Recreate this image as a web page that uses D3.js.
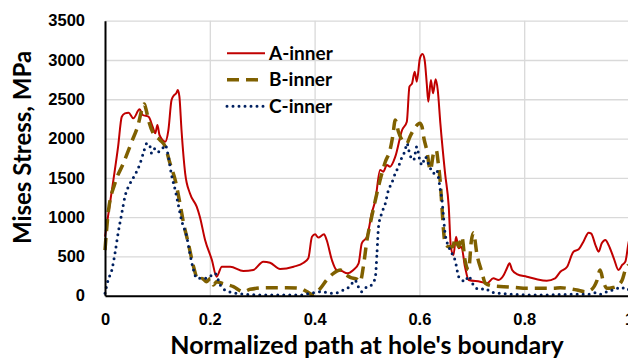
<!DOCTYPE html>
<html>
<head>
<meta charset="utf-8">
<script src="https://cdn.jsdelivr.net/npm/d3@7"></script>
<style>
  html, body { margin: 0; padding: 0; background: #fff; }
  svg { display: block; font-family: Lato, "Open Sans", sans-serif; font-weight: 700; }
</style>
</head>
<body>
<svg id="chart" width="628" height="358"></svg>
<script>
/* ── DATA ── */
const seriesNames = ['A-inner', 'B-inner', 'C-inner'];
const xTicks = [0, 0.2, 0.4, 0.6, 0.8, 1];
const yTicks = [0, 500, 1000, 1500, 2000, 2500, 3000, 3500];
const xTitle = "Normalized path at hole's boundary";
const yTitle = 'Mises Stress, MPa';

// [normalized path, stress MPa]
const aInner = [
  [0, 750], [0.016, 1470], [0.025, 1896], [0.032, 2278], [0.038, 2321], [0.045, 2330],
  [0.054, 2258], [0.066, 2372], [0.072, 2300], [0.083, 2278], [0.091, 2150], [0.096, 2067],
  [0.100, 2172], [0.104, 2045], [0.115, 1960], [0.121, 2109], [0.127, 2490], [0.132, 2554],
  [0.136, 2576], [0.139, 2618], [0.142, 2533], [0.146, 2109], [0.153, 1558], [0.162, 1303],
  [0.175, 1133], [0.181, 1005], [0.191, 709], [0.204, 454], [0.213, 242], [0.223, 369],
  [0.239, 369], [0.264, 314], [0.283, 327], [0.302, 433], [0.315, 420], [0.334, 340],
  [0.360, 369], [0.379, 420], [0.388, 476], [0.395, 751], [0.401, 781], [0.407, 740],
  [0.418, 781], [0.423, 709], [0.433, 454], [0.442, 327], [0.452, 314], [0.462, 285],
  [0.474, 327], [0.484, 412], [0.490, 667], [0.500, 751], [0.509, 1049], [0.516, 1218],
  [0.525, 1600], [0.531, 1578], [0.538, 1663], [0.544, 1642], [0.554, 1769], [0.567, 2109],
  [0.576, 2215], [0.581, 2660], [0.586, 2703], [0.591, 2851], [0.595, 2724], [0.601, 3021],
  [0.606, 3076], [0.610, 3000], [0.614, 2703], [0.617, 2469], [0.622, 2745], [0.626, 2576],
  [0.631, 2754], [0.635, 2618], [0.640, 2194], [0.649, 1558], [0.656, 1133], [0.660, 624],
  [0.665, 518], [0.670, 751], [0.675, 603], [0.680, 624], [0.687, 369], [0.694, 200],
  [0.716, 178], [0.729, 158], [0.741, 221], [0.751, 200], [0.761, 263], [0.767, 349],
  [0.772, 412], [0.777, 327], [0.786, 276], [0.805, 242], [0.824, 209], [0.843, 191],
  [0.859, 221], [0.869, 305], [0.882, 369], [0.894, 560], [0.904, 590], [0.913, 687],
  [0.923, 802], [0.928, 790], [0.936, 645], [0.942, 560], [0.948, 667], [0.955, 709],
  [0.961, 645], [0.971, 476], [0.980, 327], [0.987, 391], [0.993, 433], [0.999, 667], [1, 700]
];

const bInner = [
  [0, 581], [0.006, 1049], [0.019, 1430], [0.035, 1685], [0.051, 1960], [0.064, 2194],
  [0.070, 2363], [0.075, 2440], [0.078, 2380], [0.083, 2236], [0.092, 2067], [0.105, 1981],
  [0.115, 1896], [0.124, 1685], [0.134, 1472], [0.143, 1176], [0.150, 921], [0.159, 667],
  [0.169, 369], [0.178, 200], [0.185, 220], [0.194, 178], [0.201, 221], [0.207, 136],
  [0.213, 178], [0.223, 158], [0.245, 115], [0.264, 51], [0.277, 81], [0.309, 102],
  [0.347, 102], [0.372, 94], [0.385, 51], [0.398, 9], [0.411, 94], [0.423, 200],
  [0.436, 285], [0.449, 327], [0.458, 276], [0.468, 234], [0.481, 209], [0.487, 178],
  [0.493, 369], [0.500, 709], [0.509, 1005], [0.516, 1218], [0.525, 1472], [0.535, 1705],
  [0.544, 1854], [0.549, 2024], [0.554, 2236], [0.560, 2087], [0.567, 1981], [0.576, 1939],
  [0.582, 2024], [0.592, 2143], [0.601, 2194], [0.605, 2150], [0.608, 2024], [0.614, 1854],
  [0.621, 1600], [0.627, 1812], [0.632, 1854], [0.636, 1685], [0.640, 1430], [0.643, 1133],
  [0.646, 836], [0.649, 667], [0.656, 624], [0.664, 624], [0.668, 730], [0.675, 624],
  [0.681, 751], [0.687, 454], [0.694, 330], [0.699, 690], [0.703, 800], [0.710, 520],
  [0.719, 305], [0.726, 158], [0.741, 123], [0.761, 115], [0.780, 106], [0.805, 94],
  [0.831, 94], [0.856, 94], [0.869, 102], [0.882, 94], [0.901, 72], [0.917, 51],
  [0.929, 81], [0.938, 178], [0.945, 327], [0.951, 178], [0.958, 94], [0.968, 102],
  [0.977, 123], [0.987, 200], [0.993, 327], [0.999, 391]
];

const cInner = [
  [0, 30], [0.006, 200], [0.013, 327], [0.019, 539], [0.025, 794], [0.032, 1049],
  [0.038, 1260], [0.048, 1430], [0.057, 1536], [0.067, 1685], [0.073, 1812], [0.080, 1939],
  [0.085, 1918], [0.089, 1812], [0.096, 1876], [0.102, 1833], [0.108, 1854], [0.115, 1918],
  [0.121, 1769], [0.127, 1536], [0.134, 1345], [0.140, 1154], [0.146, 963], [0.156, 751],
  [0.162, 539], [0.169, 327], [0.175, 221], [0.185, 221], [0.194, 221], [0.204, 263],
  [0.210, 285], [0.220, 136], [0.229, 72], [0.245, 38], [0.264, 21], [0.296, 9],
  [0.340, 9], [0.372, 9], [0.391, 30], [0.411, 51], [0.436, 30], [0.455, 72],
  [0.468, 123], [0.477, 200], [0.484, 106], [0.490, 51], [0.500, 115], [0.509, 136],
  [0.516, 242], [0.519, 539], [0.522, 878], [0.528, 1049], [0.535, 1176], [0.541, 1345],
  [0.547, 1430], [0.554, 1558], [0.560, 1642], [0.567, 1769], [0.573, 1854], [0.576, 1939],
  [0.582, 1791], [0.589, 1727], [0.595, 1896], [0.600, 1748], [0.605, 1663], [0.611, 1769],
  [0.617, 1685], [0.621, 1621], [0.627, 1558], [0.633, 1600], [0.636, 1515], [0.640, 1345],
  [0.643, 1218], [0.646, 1005], [0.649, 794], [0.656, 624], [0.662, 539], [0.668, 454],
  [0.675, 242], [0.681, 200], [0.687, 178], [0.694, 250], [0.701, 160], [0.710, 90],
  [0.716, 81], [0.726, 94], [0.735, 51], [0.754, 30], [0.780, 17], [0.830, 9],
  [0.888, 17], [0.923, 17], [0.936, 38], [0.945, 17], [0.958, 51], [0.968, 72],
  [0.977, 94], [0.987, 106], [0.993, 72], [1, 81]
];

/* ── CHART ── */
(function () {
  const svg = d3.select('#chart');
  const left = 105, right = 629, top = 20.7, bottom = 295.7;

  const x = d3.scaleLinear().domain([0, 1]).range([left, right]);
  const y = d3.scaleLinear().domain([0, 3500]).range([bottom, top]);

  const styles = [
    { data: aInner, col: '#c00000', w: 2, dash: null, cap: 'butt' },
    { data: bInner, col: '#7f6000', w: 3.5, dash: '12,7', cap: 'butt' },
    { data: cInner, col: '#002060', w: 3, dash: '0,6', cap: 'round' },
  ];

  // Grid lines
  svg.append('g')
    .attr('transform', `translate(0,${bottom})`)
    .call(d3.axisBottom(x).tickValues(xTicks.slice(1)).tickSize(-(bottom - top)).tickFormat(''))
    .call(g => g.select('.domain').remove())
    .call(g => g.selectAll('line').attr('stroke', '#d9d9d9').attr('stroke-width', 1.3));

  svg.append('g')
    .attr('transform', `translate(${left},0)`)
    .call(d3.axisLeft(y).tickValues(yTicks.slice(1)).tickSize(-(right - left)).tickFormat(''))
    .call(g => g.select('.domain').remove())
    .call(g => g.selectAll('line').attr('stroke', '#d9d9d9').attr('stroke-width', 1.3));

  // Series
  const line = d3.line().x(d => x(d[0])).y(d => y(d[1])).curve(d3.curveMonotoneX);
  styles.forEach(s => {
    svg.append('path').datum(s.data)
      .attr('fill', 'none')
      .attr('stroke', s.col)
      .attr('stroke-width', s.w)
      .attr('stroke-dasharray', s.dash)
      .attr('stroke-linecap', s.cap)
      .attr('stroke-linejoin', 'round')
      .attr('d', line);
  });

  // Axes
  svg.append('g')
    .attr('transform', `translate(0,${bottom})`)
    .call(d3.axisBottom(x).tickValues(xTicks).tickSize(0).tickPadding(18).tickFormat(d => d))
    .call(g => g.select('.domain').attr('stroke', '#000').attr('stroke-width', 2))
    .call(g => g.selectAll('text').attr('font-size', 16.5).attr('font-family', null).attr('fill', '#000'));

  svg.append('g')
    .attr('transform', `translate(${left},0)`)
    .call(d3.axisLeft(y).tickValues(yTicks).tickSize(0).tickPadding(20).tickFormat(d => d))
    .call(g => g.select('.domain').attr('stroke', '#000').attr('stroke-width', 2))
    .call(g => g.selectAll('text').attr('font-size', 16.5).attr('font-family', null).attr('fill', '#000'));

  // Titles
  svg.append('text')
    .attr('x', (left + right) / 2).attr('y', 354)
    .attr('text-anchor', 'middle').attr('font-size', 25)
    .text(xTitle);

  svg.append('text')
    .attr('transform', 'translate(31,147.5) rotate(-90)')
    .attr('text-anchor', 'middle').attr('font-size', 24)
    .text(yTitle);

  // Legend
  const lg = svg.append('g');
  styles.forEach((s, i) => {
    const ly = 53.3 + i * 26.5;
    lg.append('line')
      .attr('x1', 227).attr('x2', 265).attr('y1', ly).attr('y2', ly)
      .attr('stroke', s.col).attr('stroke-width', s.w)
      .attr('stroke-dasharray', s.dash).attr('stroke-linecap', s.cap);
    lg.append('text')
      .attr('x', 269).attr('y', ly).attr('dy', '0.35em')
      .attr('font-size', 19)
      .text(seriesNames[i]);
  });
})();
</script>
</body>
</html>
